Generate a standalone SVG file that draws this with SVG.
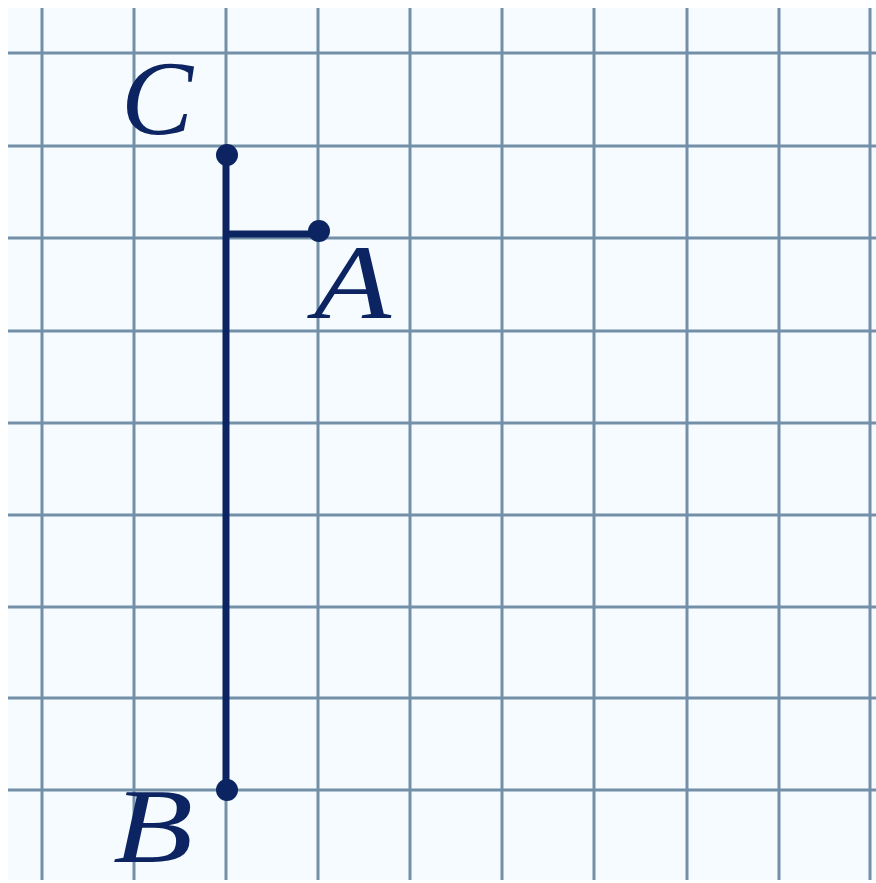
<svg xmlns="http://www.w3.org/2000/svg" width="876" height="883" viewBox="0 0 876 883">
<style>
.grid line{stroke:#7490a9;stroke-width:3}
.seg{stroke:#0c2461;stroke-width:7;stroke-linecap:butt}
.pt{fill:#0c2461}
.lbl{font-family:"Liberation Serif","DejaVu Serif",serif;font-style:italic;font-size:106px;fill:#0c2461}
</style>
<rect width="876" height="883" fill="#ffffff"/>
<rect x="8" y="8" width="868" height="872" fill="#f5fbfe"/>
<g class="grid">
<line x1="42" y1="8" x2="42" y2="880"/>
<line x1="134" y1="8" x2="134" y2="880"/>
<line x1="226" y1="8" x2="226" y2="880"/>
<line x1="318" y1="8" x2="318" y2="880"/>
<line x1="410" y1="8" x2="410" y2="880"/>
<line x1="502" y1="8" x2="502" y2="880"/>
<line x1="594" y1="8" x2="594" y2="880"/>
<line x1="687" y1="8" x2="687" y2="880"/>
<line x1="779" y1="8" x2="779" y2="880"/>
<line x1="870" y1="8" x2="870" y2="880"/>
<line x1="8" y1="53" x2="876" y2="53"/>
<line x1="8" y1="146" x2="876" y2="146"/>
<line x1="8" y1="238" x2="876" y2="238"/>
<line x1="8" y1="331" x2="876" y2="331"/>
<line x1="8" y1="423" x2="876" y2="423"/>
<line x1="8" y1="515" x2="876" y2="515"/>
<line x1="8" y1="607" x2="876" y2="607"/>
<line x1="8" y1="698" x2="876" y2="698"/>
<line x1="8" y1="790" x2="876" y2="790"/>
</g>
<g id="connectors">
<line class="seg" x1="226" y1="155" x2="226" y2="790"/>
<line class="seg" x1="226" y1="234" x2="318" y2="234"/>
</g>
<g id="C"><circle class="pt" cx="227" cy="155" r="11"/><text class="lbl" x="121" y="134" textLength="72" lengthAdjust="spacingAndGlyphs">C</text></g>
<g id="A"><circle class="pt" cx="319" cy="231" r="11"/><text class="lbl" x="314" y="318" textLength="77" lengthAdjust="spacingAndGlyphs">A</text></g>
<g id="B"><circle class="pt" cx="227" cy="790" r="11"/><text class="lbl" x="113" y="862" textLength="80" lengthAdjust="spacingAndGlyphs">B</text></g>
</svg>
